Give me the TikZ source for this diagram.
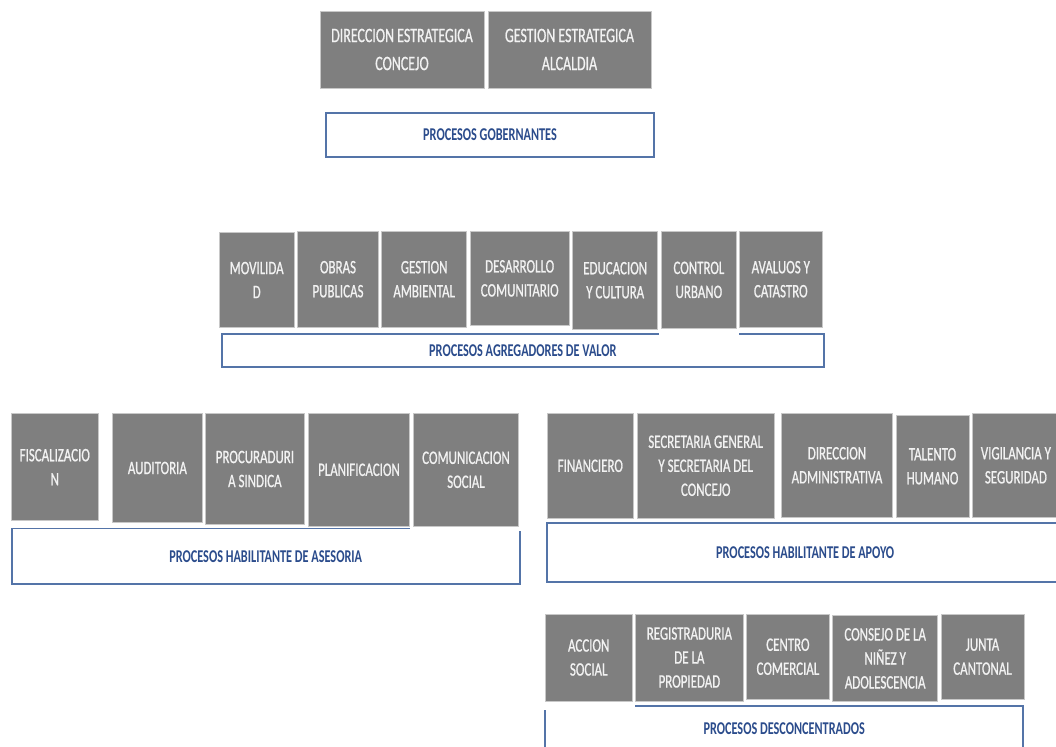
\documentclass[tikz,border=0pt]{standalone}
\usepackage{fontspec}
\newfontfamily\boxfont[FakeStretch=0.68]{Carlito}
\newfontfamily\graytext[FakeStretch=0.68,FakeBold=0.8]{Carlito}
\definecolor{boxgray}{HTML}{7F7F7F}
\definecolor{boxedge}{HTML}{C8C8C8}
\definecolor{boxtext}{HTML}{F2F2F2}
\definecolor{lblblue}{HTML}{2B4C8C}
\definecolor{lbledge}{HTML}{5474A8}
\tikzset{
  gbox/.style={fill=boxgray, draw=boxedge, line width=0.9pt, text=boxtext, align=center, inner sep=0pt,
    font=\graytext\fontsize{19}{24}\selectfont},
  topbox/.style={gbox, font=\graytext\fontsize{20.5}{28}\selectfont},
  lblbox/.style={fill=white, draw=lbledge, line width=1.8pt, text=lblblue, align=center, inner sep=0pt,
    font=\boxfont\bfseries\fontsize{18}{20}\selectfont},
  mask/.style={fill=white}
}
\begin{document}
\begin{tikzpicture}[x=1pt,y=-1pt]
\useasboundingbox (0,0) rectangle (1056,746);
\clip (0,0) rectangle (1056,746);

% label frames
\node[lblbox, minimum width=328pt, minimum height=44pt] (gob) at (490,135) {PROCESOS GOBERNANTES};
\node[lblbox, minimum width=602.3pt, minimum height=32.4pt] (agr) at (522.9,350.5) {PROCESOS AGREGADORES DE VALOR};
\node[lblbox, minimum width=507.8pt, minimum height=55.5pt] (ase) at (265.7,556.3) {PROCESOS HABILITANTE DE ASESORIA};
\node[lblbox, minimum width=515.7pt, minimum height=58.4pt] (apo) at (805.2,552.5) {PROCESOS HABILITANTE DE APOYO};
\node[lblbox, minimum width=478.3pt, minimum height=46pt] (dsc) at (784.2,729) {PROCESOS DESCONCENTRADOS};

% white gaps in frame edges
\fill[mask] (658.6,330) rectangle (738.8,338);
\fill[mask] (410.4,524) rectangle (523,531);
\fill[mask] (542,702) rectangle (635,709.5);

% top
\node[topbox, minimum width=164pt, minimum height=77pt] (dir) at (402,49.5) {DIRECCION ESTRATEGICA\\CONCEJO};
\node[topbox, minimum width=163pt, minimum height=77pt] (ges) at (569.5,49.5) {GESTION ESTRATEGICA\\ALCALDIA};

% agregadores
\node[gbox, minimum width=74.7pt, minimum height=94.6pt] (mov) at (256.7,280) {MOVILIDA\\D};
\node[gbox, minimum width=80.6pt, minimum height=96.3pt] (obr) at (338,279.2) {OBRAS\\PUBLICAS};
\node[gbox, minimum width=85pt, minimum height=96.3pt] (gam) at (424.2,279.2) {GESTION\\AMBIENTAL};
\node[gbox, minimum width=99.3pt, minimum height=94.7pt] (des) at (519.7,278.4) {DESARROLLO\\COMUNITARIO};
\node[gbox, minimum width=85pt, minimum height=98.3pt] (edu) at (615.2,280.2) {EDUCACION\\Y CULTURA};
\node[gbox, minimum width=74.3pt, minimum height=97.7pt] (con) at (698.9,279.9) {CONTROL\\URBANO};
\node[gbox, minimum width=83pt, minimum height=96.3pt] (ava) at (780.8,279.2) {AVALUOS Y\\CATASTRO};

% asesoria
\node[gbox, minimum width=87.2pt, minimum height=107.2pt] (fis) at (54.8,467.1) {FISCALIZACIO\\N};
\node[gbox, minimum width=89.6pt, minimum height=108.9pt] (aud) at (157.4,468) {AUDITORIA};
\node[gbox, minimum width=98.8pt, minimum height=110.9pt] (pro) at (254.9,469) {PROCURADURI\\A SINDICA};
\node[gbox, minimum width=101.4pt, minimum height=112.6pt] (pla) at (359,469.8) {PLANIFICACION};
\node[gbox, minimum width=105.8pt, minimum height=112.5pt] (com) at (466,469.8) {COMUNICACION\\SOCIAL};

% apoyo
\node[gbox, minimum width=86pt, minimum height=105pt] (fin) at (590.3,465.8) {FINANCIERO};
\node[gbox, minimum width=137.3pt, minimum height=105pt] (sec) at (705.7,465.8) {SECRETARIA GENERAL\\Y SECRETARIA DEL\\CONCEJO};
\node[gbox, minimum width=110.6pt, minimum height=104pt] (dad) at (837,465.3) {DIRECCION\\ADMINISTRATIVA};
\node[gbox, minimum width=73pt, minimum height=102.3pt] (tal) at (932.5,466.2) {TALENTO\\HUMANO};
\node[gbox, minimum width=86.3pt, minimum height=104pt] (vig) at (1015.9,465.3) {VIGILANCIA Y\\SEGURIDAD};

% desconcentrados
\node[gbox, minimum width=87.3pt, minimum height=87pt] (acc) at (588.7,657.5) {ACCION\\SOCIAL};
\node[gbox, minimum width=107.3pt, minimum height=87pt] (reg) at (689.4,657.5) {REGISTRADURIA\\DE LA\\PROPIEDAD};
\node[gbox, minimum width=82.3pt, minimum height=85.3pt] (cen) at (787.9,656.7) {CENTRO\\COMERCIAL};
\node[gbox, minimum width=105pt, minimum height=85.3pt] (cnj) at (885.2,658.4) {CONSEJO DE LA\\NIÑEZ Y\\ADOLESCENCIA};
\node[gbox, minimum width=83pt, minimum height=85.3pt] (jun) at (982.5,656.7) {JUNTA\\CANTONAL};
\end{tikzpicture}
\end{document}
